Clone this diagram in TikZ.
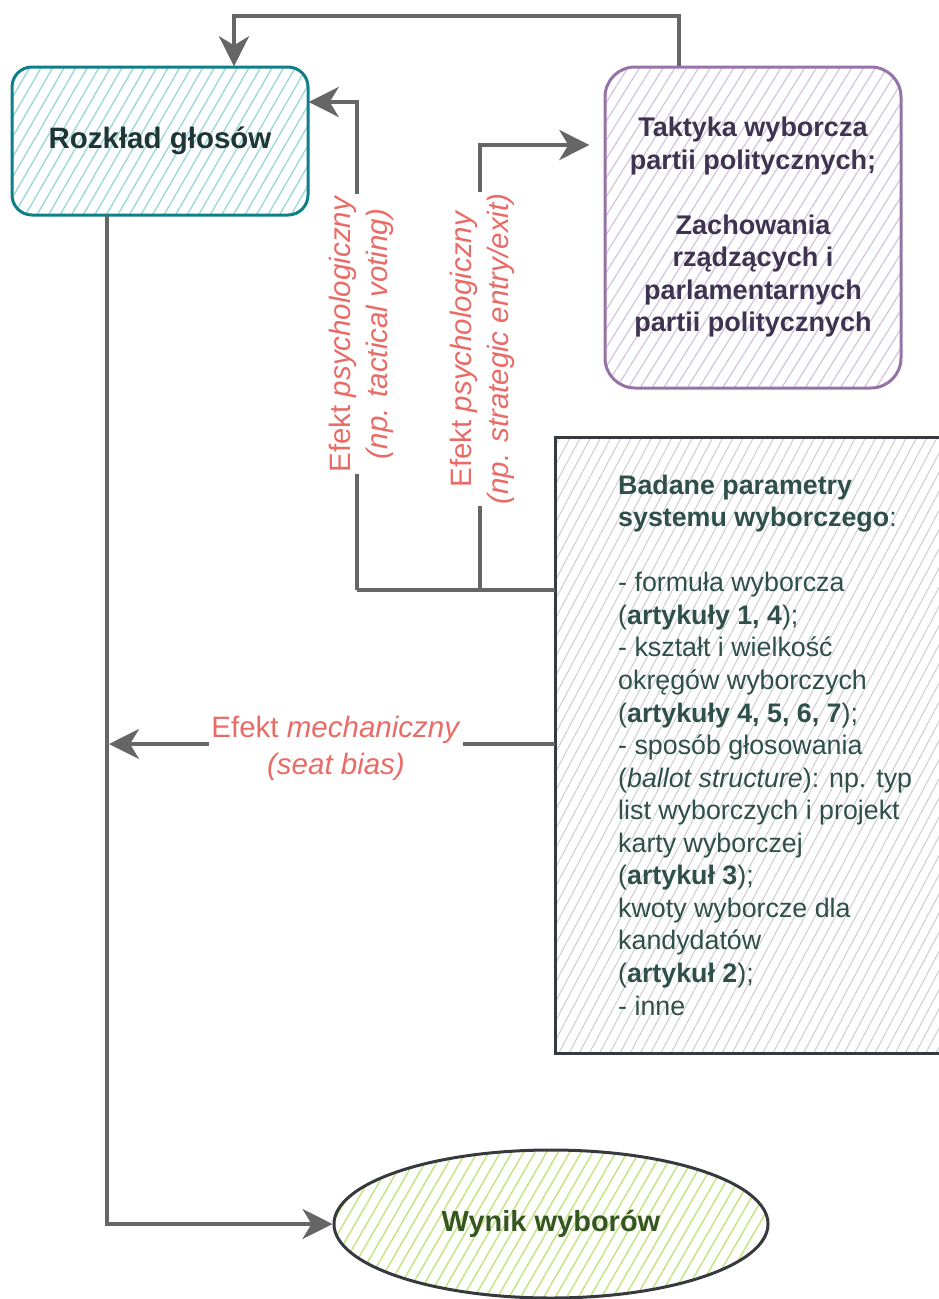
\documentclass[tikz,border=0pt]{standalone}
\usepackage{fontspec}
\setmainfont{Liberation Sans}
\usetikzlibrary{arrows.meta,patterns.meta,shapes.geometric}
\definecolor{tealB}{HTML}{0E7F88}
\definecolor{tealH}{HTML}{9ED8DC}
\definecolor{purB}{HTML}{9673A6}
\definecolor{purH}{HTML}{D6C6DF}
\definecolor{grayB}{HTML}{36393D}
\definecolor{grayH}{HTML}{CDCDCD}
\definecolor{greenH}{HTML}{C2E47E}
\definecolor{lineG}{HTML}{666666}
\definecolor{redL}{HTML}{EA6B66}
\definecolor{rozT}{HTML}{1F3636}
\definecolor{takT}{HTML}{3E3350}
\definecolor{badT}{HTML}{2E5049}
\definecolor{winT}{HTML}{355620}
\begin{document}
\begin{tikzpicture}[x=1pt,y=-1pt,
  conn/.style={draw=lineG, line width=4pt, -{Stealth[length=30pt,width=30pt,inset=9pt]}},
  plainline/.style={draw=lineG, line width=4pt},
  rozbox/.style={draw=tealB, line width=3pt, rounded corners=20pt,
    pattern={Lines[angle=60,distance=10pt,line width=1.4pt]}, pattern color=tealH,
    minimum width=296pt, minimum height=148pt, inner sep=0pt,
    font=\bfseries\fontsize{29.5}{34}\selectfont, text=rozT},
  takbox/.style={draw=purB, line width=3pt, rounded corners=30pt,
    pattern={Lines[angle=58,distance=10pt,line width=1.3pt]}, pattern color=purH,
    minimum width=296pt, minimum height=321pt, inner sep=0pt, align=center,
    font=\bfseries\fontsize{27}{32.5}\selectfont, text=takT},
  badbox/.style={draw=grayB, line width=3pt,
    pattern={Lines[angle=62,distance=9pt,line width=1pt]}, pattern color=grayH,
    minimum width=390pt, minimum height=616pt, inner sep=0pt},
  badtext/.style={align=left, inner sep=0pt,
    font=\fontsize{26.8}{32.56}\selectfont, text=badT},
  winbox/.style={ellipse, draw=grayB, line width=3pt,
    pattern={Lines[angle=60,distance=10pt,line width=1.4pt]}, pattern color=greenH,
    minimum width=434pt, minimum height=148pt, inner sep=0pt,
    font=\bfseries\fontsize{29}{34}\selectfont, text=winT},
  efflabel/.style={fill=white, inner xsep=2pt, inner ysep=1pt, align=center,
    font=\fontsize{29.5}{37}\selectfont, text=redL}
]
\useasboundingbox (0,0) rectangle (939,1299);

\node[rozbox] (roz) at (160,141) {Rozkład głosów};
\node[takbox] (tak) at (753,227.5) {Taktyka wyborcza\\partii politycznych;\\[32.5pt]Zachowania\\rządzących i\\parlamentarnych\\partii politycznych};
\node[badbox] (bad) at (750,745) {};
\node[badtext, anchor=west] (badt) at (618,745) {\textbf{Badane parametry}\\\textbf{systemu wyborczego}:\\[32.56pt]- formuła wyborcza\\(\textbf{artykuły 1, 4});\\- kształt i wielkość\\okręgów wyborczych\\(\textbf{artykuły 4, 5, 6, 7});\\- sposób głosowania\\(\textit{ballot structure}): np. typ\\list wyborczych i projekt\\karty wyborczej\\(\textbf{artykuł 3});\\kwoty wyborcze dla\\kandydatów\\(\textbf{artykuł 2});\\- inne};
\node[winbox] (win) at (551,1224) {Wynik wyborów};

\coordinate (j1) at (357,590);
\coordinate (j2) at (480,590);
\coordinate (m) at (109,744);

% top feedback arrow
\draw[conn] ([xshift=-74pt]tak.north) -- ++(0,-50) -| ([xshift=74pt]roz.north);
% tactical voting
\draw[plainline] ([yshift=155pt]bad.west) -- (j1);
\draw[conn] (j1) |- ([yshift=39pt]roz.east);
% strategic entry
\draw[conn, shorten >=15pt] (j2) |- ([yshift=82.5pt]tak.west);
% mechanical
\draw[conn] ([yshift=1pt]bad.west) -- (m);
% to results
\draw[conn] ([xshift=-53pt]roz.south) |- (win.west);

\node[efflabel, rotate=90] (lab1) at (361,334) {Efekt \textit{psychologiczny}\\\textit{(np. tactical voting)}};
\node[efflabel, rotate=90] (lab2) at (482,349) {Efekt \textit{psychologiczny}\\\textit{(np. strategic entry/exit)}};
\node[efflabel] (lab3) at (336,748) {Efekt \textit{mechaniczny}\\\textit{(seat bias)}};
\end{tikzpicture}
\end{document}
